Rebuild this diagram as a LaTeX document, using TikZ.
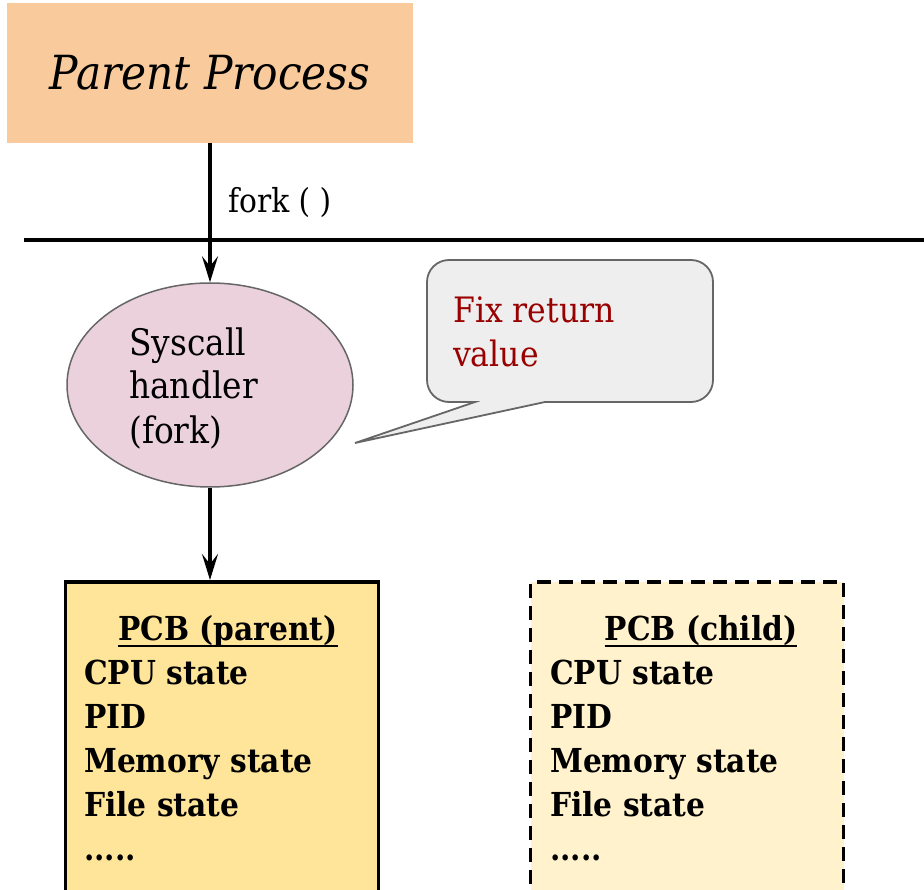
\documentclass[tikz,border=0pt]{standalone}
\usepackage{fontspec}
\setmainfont{DejaVu Serif Condensed}
\usetikzlibrary{shapes.geometric,arrows.meta}
\definecolor{orangebox}{HTML}{F9CB9C}
\definecolor{pinkfill}{HTML}{EAD1DC}
\definecolor{grayline}{HTML}{666666}
\definecolor{calloutfill}{HTML}{EEEEEE}
\definecolor{darkred}{HTML}{990000}
\definecolor{pcbparent}{HTML}{FFE599}
\definecolor{pcbchild}{HTML}{FFF2CC}
\begin{document}
\begin{tikzpicture}[x=1pt,y=-1pt,
  arr/.style={line width=3.3pt,-{Stealth[length=26pt,width=16pt,inset=10pt]}},
  txt/.style={inner sep=0pt,anchor=base west,font=\fontsize{36.5}{43}\selectfont},
  listtxt/.style={inner sep=0pt,anchor=base west,font=\fontsize{33}{44}\selectfont\bfseries},
  titletxt/.style={inner sep=0pt,anchor=base,font=\fontsize{33}{44}\selectfont\bfseries},
  pcbbox/.style={draw=black,line width=3.6pt,minimum width=313pt,minimum height=340pt,inner sep=0pt,anchor=north}]
\useasboundingbox (0,0) rectangle (924,890);
\clip (0,0) rectangle (924,890);

% parent process
\node[fill=orangebox,minimum width=406pt,minimum height=140pt,inner sep=0pt,
      font=\fontsize{47}{56}\selectfont\itshape] (parent) at (210,73) {Parent Process};

% kernel boundary line
\coordinate (lineL) at (24,240);
\coordinate (lineR) at (924,240);
\draw[line width=4pt] (lineL) -- (lineR);

\node[txt,font=\fontsize{33}{40}\selectfont] (forklbl) at (228,213) {fork ( )};

% syscall handler
\node[ellipse,draw=grayline,fill=pinkfill,line width=1.5pt,minimum width=286pt,
      minimum height=204pt,inner sep=0pt] (handler) at (210,385) {};
\node[txt] (h1) at (129,356) {Syscall};
\node[txt] (h2) at (129,399) {handler};
\node[txt] (h3) at (129,443) {(fork)};

% callout
\coordinate (ctip) at (355,443);
\draw[draw=grayline,fill=calloutfill,line width=1.8pt]
  (545,402) {[rounded corners=22pt] -- (713,402) -- (713,260) -- (427,260) -- (427,402)}
  -- (475,402) -- (ctip) -- cycle;
\node[txt,text=darkred,font=\fontsize{35}{44}\selectfont] (c1) at (453,323) {Fix return};
\node[txt,text=darkred,font=\fontsize{35}{44}\selectfont] (c2) at (453,367) {value};

% PCB boxes
\node[pcbbox,fill=pcbparent] (pcbp) at (222,580) {};
\node[pcbbox,fill=pcbchild,dash pattern=on 14pt off 8pt] (pcbc) at (687,580) {};

\node[titletxt] (pt) at (228,640) {PCB (parent)};
\draw[line width=2.8pt] ([yshift=-6pt]pt.base west) -- ([yshift=-6pt]pt.base east);
\node[titletxt] (ct) at (701,640) {PCB (child)};
\draw[line width=2.8pt] ([yshift=-6pt]ct.base west) -- ([yshift=-6pt]ct.base east);

\node[listtxt] (pl1) at (84,684) {CPU state};
\node[listtxt] (pl2) at (84,728) {PID};
\node[listtxt] (pl3) at (84,772) {Memory state};
\node[listtxt] (pl4) at (84,816) {File state};
\node[listtxt] (pl5) at (84,860) {.....};
\node[listtxt] (cl1) at (550,684) {CPU state};
\node[listtxt] (cl2) at (550,728) {PID};
\node[listtxt] (cl3) at (550,772) {Memory state};
\node[listtxt] (cl4) at (550,816) {File state};
\node[listtxt] (cl5) at (550,860) {.....};

% connectors
\draw[arr] (parent.south) -- (handler.north);
\draw[arr] (handler.south) -- (handler.south |- pcbp.north);
\end{tikzpicture}
\end{document}
